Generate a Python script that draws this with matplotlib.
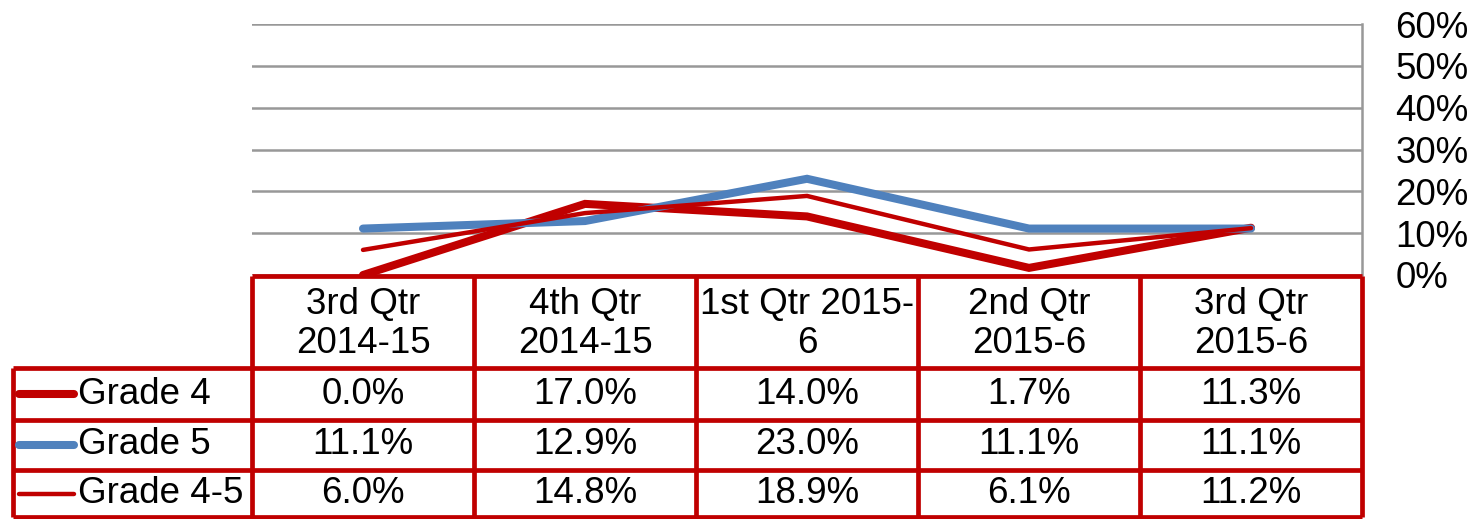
import numpy as np
import matplotlib
matplotlib.use("Agg")
import matplotlib.pyplot as plt

plt.rcParams['font.family'] = ['Liberation Sans', 'DejaVu Sans']

# data
categories = ["3rd Qtr\n2014-15", "4th Qtr\n2014-15", "1st Qtr 2015-\n6",
              "2nd Qtr\n2015-6", "3rd Qtr\n2015-6"]
series_names = ["Grade 4", "Grade 5", "Grade 4-5"]
grade4 = [0.0, 17.0, 14.0, 1.7, 11.3]
grade5 = [11.1, 12.9, 23.0, 11.1, 11.1]
grade45 = [6.0, 14.8, 18.9, 6.1, 11.2]
yticks = [0, 10, 20, 30, 40, 50, 60]

series = [grade4, grade5, grade45]
colors = ["#C00000", "#4F81BD", "#C00000"]
widths = [5.8, 5.8, 3.2]

W, H = 1473, 519
fig = plt.figure(figsize=(W / 100, H / 100), dpi=100)

# pixel layout
px_left, px_right = 252, 1362
px_top, px_zero = 24, 275
px_tab_left, px_bottom = 13, 517
colw = (px_right - px_left) / 5.0

# chart axes
ax = fig.add_axes([px_left / W, 1 - px_zero / H,
                   (px_right - px_left) / W, (px_zero - px_top) / H])
x = np.arange(len(categories))
for vals, c, lw in zip(series, colors, widths):
    ax.plot(x, vals, color=c, lw=lw, solid_capstyle='round',
            solid_joinstyle='miter', zorder=3)
ax.set_xlim(-0.5, 4.5)
ax.set_ylim(0, 60)
ax.set_yticks(yticks)
ax.set_yticklabels([f"{t}%" for t in yticks], fontsize=26.5)
ax.yaxis.tick_right()
ax.tick_params(axis='y', length=0, pad=24)
ax.set_xticks([])
ax.grid(axis='y', color='#989898', lw=1.8)
ax.set_axisbelow(True)
for s in ['left', 'top', 'bottom']:
    ax.spines[s].set_visible(False)
ax.spines['right'].set_color('#989898')
ax.spines['right'].set_linewidth(1.8)
for lab in ax.get_yticklabels():
    lab.set_horizontalalignment('left')

# data table axes
def px2col(px):
    return -0.5 + (px - px_left) / colw

xl = px2col(px_tab_left)
tab = fig.add_axes([px_tab_left / W, 1 - px_bottom / H,
                    (px_right - px_tab_left) / W, (px_bottom - px_zero) / H])
tab.set_xlim(xl, 4.5)
tab.set_ylim(px_bottom, px_zero)
tab.axis('off')

rows = [px_zero + 1, 368, 420, 470, px_bottom]
red = "#C00000"
blw = 3.4
# header row
tab.hlines(rows[0], -0.5, 4.5, color=red, lw=blw, clip_on=False)
for r in rows[1:]:
    tab.hlines(r, xl, 4.5, color=red, lw=blw, clip_on=False)
for i in range(6):
    tab.vlines(-0.5 + i, rows[0], rows[-1], color=red, lw=blw, clip_on=False)
tab.vlines(xl, rows[1], rows[-1], color=red, lw=blw, clip_on=False)

for i, cat in enumerate(categories):
    tab.text(i, (rows[0] + rows[1]) / 2 + 2, cat, ha='center', va='center',
             fontsize=26.5, linespacing=1.12)

for j, (name, vals, c, lw) in enumerate(zip(series_names, series, colors, widths)):
    yc = (rows[j + 1] + rows[j + 2]) / 2
    tab.plot([px2col(19), px2col(74)], [yc, yc], color=c, lw=lw,
             solid_capstyle='round')
    tab.text(px2col(78), yc, name, ha='left', va='center', fontsize=26.5)
    for i, v in enumerate(vals):
        tab.text(i, yc, f"{v:.1f}%", ha='center', va='center', fontsize=26.5)

fig.savefig("out.png", dpi=100)
